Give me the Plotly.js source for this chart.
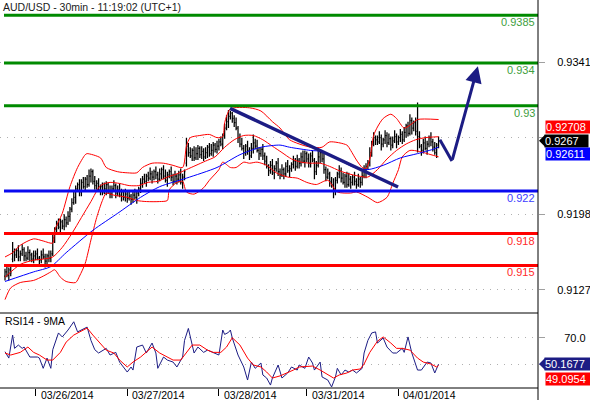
<!DOCTYPE html>
<html><head><meta charset="utf-8">
<script src="https://cdn.plot.ly/plotly-3.0.1.min.js"></script>
<style>html,body{margin:0;padding:0;background:#fff}#chart{width:590px;height:400px}</style>
</head><body><div id="chart"></div>
<script>
// ---------- DATA (prices in pips above 0.9000; bar index = 30-min bar) ----------
const chartTitle = 'AUD/USD - 30min - 11:19:02 (UTC+1)';
const rsiTitle = 'RSI14 - 9MA';
const dayLabels = ['03/26/2014','03/27/2014','03/28/2014','03/31/2014','04/01/2014'];
const dayStartBar = [16,64,112,158,206];

const open = [140,144,141,146,156,
163,160,164,158,161,165,159,157,162,160,156,159,161,157,155,160,158,154,159,157,
161,
176,184,188,186,191,187,193,190,
196,203,209,
214,222,226,219,228,224,231,226,
234,
238,229,225,227,221,224,219,222,226,220,217,222,225,218,221,216,219,214,217,213,215,212,216,214,
218,222,227,231,229,234,232,
236,233,238,235,231,236,240,234,230,235,238,233,229,234,231,
235,228,233,
246,262,256,253,258,251,255,260,254,257,252,256,261,255,258,263,259,262,266,
264,272,279,285,290,293,288,284,
279,270,264,260,256,262,258,253,260,265,262,258,255,259,
253,248,243,239,244,237,241,246,238,235,240,236,243,239,
241,245,248,243,249,
246,252,248,255,250,246,253,249,238,244,252,256,
250,240,233,236,229,226,
222,230,236,239,232,228,234,226,231,228,233,229,226,231,228,
234,238,243,
247,256,264,270,
268,266,270,264,268,272,265,269,263,267,271,266,270,273,
268,275,281,274,286,279,284,
276,
271,262,258,265,260,
264,270,266,261,256,263];

const high = [147,149,148,150,172,
166,166,169,164,170,167,163,168,165,162,164,164,166,159,164,166,161,161,164,164,
181,
186,192,194,194,193,198,196,201,
205,213,220,
225,228,231,231,233,233,235,240,
241,
240,234,230,232,226,228,228,229,228,225,225,230,227,225,227,222,221,222,220,220,217,220,222,221,
224,232,234,236,236,238,242,
239,240,243,238,241,242,244,240,238,240,243,236,239,236,239,
241,236,240,
270,265,261,260,262,261,263,262,262,260,261,263,265,264,266,265,267,269,271,
274,283,291,296,295,294,291,289,
281,274,270,263,264,267,261,265,273,269,268,261,261,264,
256,253,245,248,250,244,248,251,241,245,242,247,249,244,
247,253,251,254,251,
256,258,258,257,255,256,258,251,248,258,259,258,
255,243,241,238,233,232,
233,238,244,242,237,236,238,237,234,235,238,232,236,233,238,
244,246,249,
261,267,275,272,
272,276,273,270,277,275,274,271,271,277,274,272,278,276,
280,283,285,292,289,286,289,
303,
276,264,269,271,267,
272,275,269,266,265,271];

const low = [136,139,136,140,153,
154,157,154,154,159,154,154,155,154,153,152,155,155,150,152,156,148,151,153,153,
159,
171,181,184,180,184,183,186,188,
191,200,207,
208,219,215,215,222,219,223,224,
228,
226,221,221,219,216,216,217,216,217,213,213,220,213,215,214,210,211,210,209,211,207,209,212,208,
215,218,223,227,224,229,230,
227,230,231,227,229,231,231,228,224,232,229,225,227,226,228,
226,222,230,
243,252,251,248,248,249,249,251,250,248,250,251,252,253,252,256,255,258,262,
259,269,277,279,287,284,280,277,
265,261,258,250,253,254,249,251,255,259,256,249,252,249,
244,241,234,236,235,231,238,234,231,233,231,233,237,233,
238,241,239,241,241,
243,246,242,247,242,242,247,231,235,242,246,247,
236,229,231,224,223,213,
216,227,232,228,226,223,223,224,222,225,225,222,224,223,225,
232,232,240,
243,252,262,263,
263,264,258,261,264,261,263,258,260,265,260,263,266,264,
266,270,271,272,273,276,272,
256,
260,253,255,258,254,
261,262,257,254,251,260];

const close = [144,141,146,143,163,
160,164,158,161,165,159,157,162,160,156,159,161,157,155,160,158,154,159,157,161,
176,
184,188,186,191,187,193,190,196,
203,209,214,
222,226,219,228,224,231,226,234,
238,
229,225,227,221,224,219,222,226,220,217,222,225,218,221,216,219,214,217,213,215,212,216,214,218,
222,227,231,229,234,232,236,
233,238,235,231,236,240,234,230,235,238,233,229,234,231,235,
228,233,238,
262,256,253,258,251,255,260,254,257,252,256,261,255,258,263,259,262,266,264,
272,279,285,290,293,288,284,279,
270,264,260,256,262,258,253,260,265,262,258,255,259,253,
248,243,239,244,237,241,246,238,235,240,236,243,239,241,
245,248,243,249,246,
252,248,255,250,246,253,249,238,244,252,256,250,
240,233,236,229,226,222,
230,236,239,232,228,234,226,231,228,233,229,226,231,228,234,
238,243,247,
256,264,270,268,
266,270,264,268,272,265,269,263,267,271,266,270,273,268,
275,281,274,286,279,284,276,
271,
262,258,265,260,264,
270,266,261,256,263,267];

// Bollinger bands (read at sample bars)
const bbUpperBar = [0,4,8,15,20,25,26,30,34,38,42,43,50,53,59,64,69,72,77,83,88,93,95,97,102,107,111,114,115,118,128,134,140,144,149,160,166,170,179,181,184,187,189,191,193,195,198,202,205,209,213,216,227];
const bbUpper    = [158,162,169,175,173,171,183,199,224,242,254,255,251,242,238,237,237,242,246,246,244,242,262,270,272,273,270,271,284,297,298,295,285,279,268,261,261,266,263,258,249,242,241,250,272,280,288,292,288,279,283,287,287];
const bbMidBar = [0,8,15,20,25,30,35,40,45,50,55,60,65,70,75,80,85,90,95,100,105,110,115,120,125,130,135,140,145,150,155,160,165,170,175,180,185,190,195,200,205,210,215,220,227];
const bbMid    = [139,151,155,156,158,167,180,195,210,225,228,227,225,225,228,229,233,236,240,244,248,252,261,268,272,272,268,262,256,250,247,246,246,243,239,236,234,233,240,250,258,264,268,270,270.85];
const bbLowerBar = [0,3,8,15,20,24,26,29,32,37,39,42,45,48,51,53,57,64,69,74,81,85,86,90,93,95,99,104,107,112,114,118,121,125,128,132,137,142,148,153,158,163,169,174,181,184,190,195,200,203,206,208,212,217,223,227];
const bbLower    = [118,129,134,136,140,144,146,139,135,134,140,152,174,195,211,218,216,214,211,210,210,211,221,228,229,219,217,223,230,240,247,242,242,247,246,247,244,237,233,232,228,226,230,219,218,219,214,209,214,227,240,252,258,257,254,252];
// Moving average (blue)
const maBar = [0,15,24,32,46,59,71,81,95,111,123,134,144,149,160,166,175,183,190,198,207,216,224,227];
const ma    = [135,144,149,162,183,199,214,224,232,242,254,261,263,261,258,257,249,242,240,244,251,255,259,261.17];

// Drawn objects
const trendBar = [117.8, 205.8];
const trendPips = [297.5, 223.7];
const forecastBar = [227.7, 234, 247.6];
const forecastPips = [268, 248, 337];

const levelValues = [0.9385, 0.934, 0.93, 0.922, 0.918, 0.915];
const levelLabels = ['0.9385','0.934','0.93','0.922','0.918','0.915'];
const priceTicks = [0.9127, 0.9198, 0.9270, 0.9341];
const priceTickText = ['0.9127','0.9198','','0.9341'];

// RSI14 and its 9MA
const rsiBar = [0,2,4,5,7,9,10,13,17,18,20,22,24,25,28,30,33,36,38,40,43,45,47,49,53,55,58,60,64,66,67,69,72,74,77,79,80,83,85,88,90,93,94,96,98,99,101,104,106,109,112,114,115,117,118,119,122,125,127,129,131,134,135,137,139,140,143,145,148,150,153,154,157,159,161,162,165,166,169,171,173,174,176,178,180,182,184,187,188,190,192,194,195,198,200,203,205,208,209,211,213,216,218,221,223,225,226,227];
const rsi = [59.5,54.7,72,62,64.5,62,63,55.5,55.5,54.7,47,54.7,47,61,73.6,70.6,75.8,82,74.4,75.8,78,68,61,58.5,62,57,59,51.7,44.2,48,45.7,63,64.5,58.5,66,58.5,47,55.5,53.2,51.7,48,55.5,68,77,64.5,58.5,63,59,60.7,59,57,75.8,72.5,74,75.8,69.8,57,48,38.2,51.7,47,51,42,39.7,34.4,39.7,49.5,39.7,43.5,48,45.7,49.5,47,55.5,51,45.7,51.7,40.5,38.2,33,40.5,47,42,45.7,44.2,45.7,43.5,47,58.5,68,73.6,74.4,66,69.8,63,58.5,58.5,62,59,70.6,58.5,45.7,45.7,51.7,51,43.5,47,50.1677];
const rsiMaBar = [0,3,8,12,15,18,22,25,29,32,36,39,43,46,50,53,57,60,64,67,71,74,77,81,85,88,92,95,98,102,106,109,113,116,119,123,127,130,134,137,140,144,148,151,154,158,161,165,169,172,175,179,182,186,188,191,195,198,202,205,208,212,216,219,223,226,227];
const rsiMa = [58.5,57,59,63,59,57,53.2,53.2,59,66.7,72,74.4,77.3,72,66,60.7,58.5,53.2,48,51.7,55.5,59,63,58.5,55.5,53.2,53.2,59,64.5,64.5,60.7,59,59,63,70,64.5,54.7,49.5,48,44.2,39.7,41.3,43.5,45.7,48,48.7,48.7,45.7,42,39.7,42,43.5,45.7,46.5,50.2,59,67.4,70.6,66,62,62,60.7,54.7,51.7,50.2,48,49.0954];
const rsiTicks = [50, 70];
const rsiTickText = ['', '70.0'];

// ---------- DRAWING ----------
const P = v => 0.9 + v / 10000;
const Pa = a => a.map(P);
const barIdx = close.map((_, i) => i);
const PW = 538, PH = 388;           // plot area in px
const fx = px => px / PW;           // px -> paper x
const NAVY = '#1c1c84';

const traces = [
  {type:'scatter', mode:'lines', x:bbUpperBar, y:Pa(bbUpper), line:{color:'#ff0000', width:1, shape:'spline', smoothing:0.7}, hoverinfo:'skip'},
  {type:'scatter', mode:'lines', x:bbMidBar, y:Pa(bbMid), line:{color:'#ff0000', width:1, shape:'spline', smoothing:0.7}, hoverinfo:'skip'},
  {type:'scatter', mode:'lines', x:bbLowerBar, y:Pa(bbLower), line:{color:'#ff0000', width:1, shape:'spline', smoothing:0.7}, hoverinfo:'skip'},
  {type:'scatter', mode:'lines', x:maBar, y:Pa(ma), line:{color:'#0000ff', width:1, shape:'spline', smoothing:0.7}, hoverinfo:'skip'},
  {type:'ohlc', x:barIdx, open:Pa(open), high:Pa(high), low:Pa(low), close:Pa(close),
   increasing:{line:{color:'#000', width:1.25}}, decreasing:{line:{color:'#000', width:1.25}}, tickwidth:0.45, hoverinfo:'skip'},
  {type:'scatter', mode:'lines', x:trendBar, y:Pa(trendPips), line:{color:NAVY, width:3.5}, hoverinfo:'skip'},
  {type:'scatter', mode:'lines', x:forecastBar.slice(0,2), y:Pa(forecastPips.slice(0,2)), line:{color:NAVY, width:3}, hoverinfo:'skip'},
  {type:'scatter', mode:'lines', x:rsiBar, y:rsi, xaxis:'x2', yaxis:'y2', line:{color:NAVY, width:1}, hoverinfo:'skip'},
  {type:'scatter', mode:'lines', x:rsiMaBar, y:rsiMa, xaxis:'x2', yaxis:'y2', line:{color:'#ff0000', width:1}, hoverinfo:'skip'}
];

const levelLine = ['#008a00','#008a00','#008a00','#0a0af0','#ff0000','#ff0000'];
const levelText = ['#3e9e3e','#3e9e3e','#3e9e3e','#3c3cff','#ff2a2a','#ff2a2a'];

const shapes = [];
levelValues.forEach((v, k) => shapes.push({type:'line', xref:'paper', x0:fx(4), x1:1, yref:'y', y0:v, y1:v, line:{color:levelLine[k], width:3}, layer:'above'}));
shapes.push({type:'line', xref:'paper', yref:'paper', x0:0, x1:1, y0:75/PH, y1:75/PH, line:{color:'#000', width:1}});
shapes.push({type:'line', xref:'paper', yref:'paper', x0:0, x1:1, y0:0, y1:0, line:{color:'#000', width:1}});
shapes.push({type:'line', xref:'paper', yref:'paper', x0:1, x1:1, y0:-0.04, y1:1, line:{color:'#000', width:1}});
// pointers of value tags
shapes.push({type:'path', xref:'paper', xsizemode:'pixel', xanchor:1, yref:'y', ysizemode:'pixel', yanchor:P(close[close.length-1]),
  path:'M 1 0 L 7 6 L 7 -6 Z', fillcolor:'#000', line:{width:0}});
shapes.push({type:'path', xref:'paper', xsizemode:'pixel', xanchor:1, yref:'y2', ysizemode:'pixel', yanchor:rsi[rsi.length-1],
  path:'M 1 0 L 7 6 L 7 -6 Z', fillcolor:NAVY, line:{width:0}});

const FONT = 'Liberation Sans, Arial, sans-serif';
const annotations = [];
levelValues.forEach((v, k) => annotations.push({xref:'paper', x:fx(537), xanchor:'right', yref:'y', y:v, yshift:-7, yanchor:'middle',
  text:levelLabels[k], showarrow:false, font:{family:FONT, size:11, color:levelText[k]}}));
dayLabels.forEach((t, k) => annotations.push({xref:'x2', x:dayStartBar[k], xanchor:'left', xshift:3, yref:'paper', y:-7/PH, yanchor:'middle',
  text:t, showarrow:false, font:{family:FONT, size:10.5, color:'#000'}}));
annotations.push({xref:'paper', x:fx(3), xanchor:'left', yref:'paper', y:(PH-321)/PH, yanchor:'middle', text:rsiTitle, showarrow:false,
  font:{family:FONT, size:10.5, color:'#000'}});
// forecast arrow
annotations.push({xref:'x', yref:'y', x:forecastBar[2], y:P(forecastPips[2]), axref:'x', ayref:'y', ax:forecastBar[1], ay:P(forecastPips[1]),
  showarrow:true, arrowhead:2, arrowsize:1.1, arrowwidth:3, arrowcolor:NAVY, text:''});
// value tags (the source tags show the first 7 characters of each value)
const tag = (yref, y, yshift, text, bg, x, w) => ({xref:'paper', x:fx(x), xanchor:'left', yref, y, yshift, yanchor:'middle', text,
  showarrow:false, bgcolor:bg, width:w, height:12, align:'left', borderpad:0, font:{family:FONT, size:11, color:'#fff'}});
const lastMid = P(bbMid[bbMid.length-1]), lastClose = P(close[close.length-1]), lastMa = P(ma[ma.length-1]);
annotations.push(tag('y', lastMid, 9.5, lastMid.toFixed(6).slice(0,7), '#ff0000', 545, 45));
annotations.push(tag('y', lastClose, 0, lastClose.toFixed(4), '#000000', 544, 43));
annotations.push(tag('y', lastMa, -7, lastMa.toFixed(6).slice(0,7), '#0000ff', 545, 45));
annotations.push(tag('y2', rsi[rsi.length-1], 0, rsi[rsi.length-1].toFixed(4), NAVY, 544, 45));
annotations.push(tag('y2', rsiMa[rsiMa.length-1], -13, rsiMa[rsiMa.length-1].toFixed(4), '#ff0000', 545, 45));

const xr = [-2.62, 279.06];
const layout = {
  width:590, height:400,
  margin:{l:0, r:52, t:0, b:12, pad:0},
  paper_bgcolor:'#ffffff', plot_bgcolor:'#ffffff',
  showlegend:false,
  font:{family:FONT, size:11, color:'#000'},
  title:{text:chartTitle, x:3/590, xanchor:'left', xref:'container', y:1-7.5/400, yref:'container', yanchor:'middle',
    font:{family:FONT, size:10.5, color:'#1a1a1a'}},
  xaxis:{domain:[0,1], range:xr, anchor:'y', type:'linear', showticklabels:false, showgrid:false, zeroline:false, ticks:'',
    showline:false, rangeslider:{visible:false}, fixedrange:true},
  xaxis2:{domain:[0,1], range:xr, anchor:'y2', type:'linear', showgrid:false, zeroline:false, showline:false,
    tickmode:'array', tickvals:dayStartBar, ticks:'outside', ticklen:7, tickwidth:1, tickcolor:'#000', showticklabels:false, fixedrange:true},
  yaxis:{domain:[75/PH,1], range:[0.91054,0.93992], side:'right', anchor:'x', tickmode:'array', tickvals:priceTicks, ticktext:priceTickText,
    showgrid:true, gridcolor:'#b0b0b0', gridwidth:1, griddash:'1px,6px', ticks:'outside', ticklen:6, tickcolor:'#a0a0a0',
    zeroline:false, showline:false, ticklabelstandoff:10, tickfont:{family:FONT, size:11, color:'#000'}, fixedrange:true},
  yaxis2:{domain:[0,75/PH], range:[32.2,88.6], side:'right', anchor:'x2', tickmode:'array', tickvals:rsiTicks, ticktext:rsiTickText,
    showgrid:true, gridcolor:'#b0b0b0', gridwidth:1, griddash:'1px,6px', ticks:'outside', ticklen:6, tickcolor:'#a0a0a0',
    zeroline:false, showline:false, ticklabelstandoff:17, tickfont:{family:FONT, size:11, color:'#000'}, fixedrange:true},
  shapes, annotations
};
Plotly.newPlot('chart', traces, layout, {staticPlot:true, displayModeBar:false});
</script>
</body></html>
